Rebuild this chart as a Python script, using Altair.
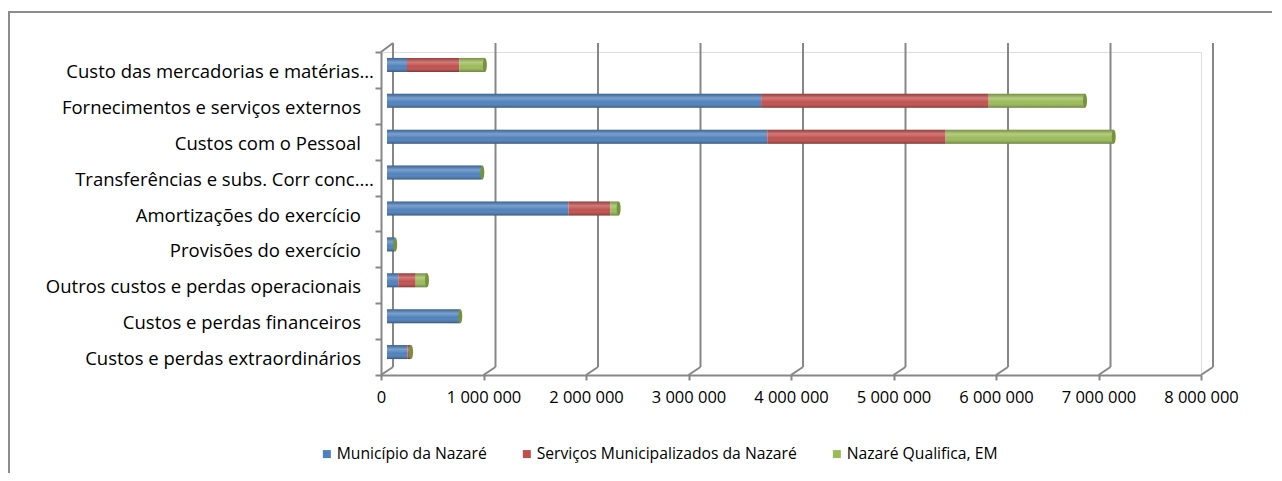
import altair as alt
import pandas as pd

categories = [
    "Custo das mercadorias e matérias…",
    "Fornecimentos e serviços externos",
    "Custos com o Pessoal",
    "Transferências e subs. Corr conc.…",
    "Amortizações do exercício",
    "Provisões do exercício",
    "Outros custos e perdas operacionais",
    "Custos e perdas financeiros",
    "Custos e perdas extraordinários",
]
series = ["Município da Nazaré", "Serviços Municipalizados da Nazaré", "Nazaré Qualifica, EM"]
municipio = [195000, 3650000, 3710000, 920000, 1770000, 75000, 110000, 710000, 200000]
servicos = [510000, 2220000, 1740000, 0, 410000, 0, 170000, 0, 30000]
qualifica = [250000, 940000, 1640000, 10000, 80000, 5000, 110000, 5000, 5000]
tick_values = [0, 1000000, 2000000, 3000000, 4000000, 5000000, 6000000, 7000000, 8000000]
colors = ["#4F81BD", "#C0504D", "#9BBB59"]

rows = []
for s_idx, (name, vals) in enumerate(zip(series, [municipio, servicos, qualifica])):
    for c, v in zip(categories, vals):
        rows.append({"categoria": c, "serie": name, "ordem": s_idx, "valor": v})
df = pd.DataFrame(rows)
cats = pd.DataFrame({"categoria": categories})
grid = pd.DataFrame({"v": tick_values})
zero = pd.DataFrame({"v": [0]})

W, H = 820, 323
FONT = "Open Sans"
xscale = alt.Scale(domain=[0, 8000000], nice=False, zero=True)
yscale = alt.Scale(domain=categories, paddingInner=0, paddingOuter=0)
GRID = "#878787"

border = alt.Chart(zero).mark_rect(fillOpacity=0, stroke="#8c8c8c", strokeWidth=2).encode(
    x=alt.value(-372), x2=alt.value(920), y=alt.value(-40), y2=alt.value(460)
)

back_grid = alt.Chart(grid).mark_rule(color=GRID, strokeWidth=2, xOffset=12).encode(
    x=alt.X("v:Q", scale=xscale), y=alt.value(-9), y2=alt.value(315)
)
diag = alt.Chart(grid).mark_rule(color=GRID, strokeWidth=2, x2Offset=12).encode(
    x=alt.X("v:Q", scale=xscale), x2="v:Q", y=alt.value(323), y2=alt.value(315)
)
top_diag = alt.Chart(zero).mark_rule(color=GRID, strokeWidth=2, x2Offset=12).encode(
    x=alt.X("v:Q", scale=xscale), x2="v:Q", y=alt.value(0), y2=alt.value(-9)
)

yenc = alt.Y(
    "categoria:N",
    sort=categories,
    title=None,
    scale=yscale,
    axis=alt.Axis(
        tickBand="extent", tickSize=6, tickColor=GRID, tickWidth=2,
        domainColor=GRID, domainWidth=2, labels=False,
    ),
)
xenc = alt.X(
    "valor:Q", stack="zero", scale=xscale, title=None,
    axis=alt.Axis(
        values=tick_values, grid=False, tickSize=5, tickColor=GRID, tickWidth=2,
        domainColor=GRID, domainWidth=2, labelPadding=9, labelFontSize=16.5,
        labelFont=FONT, labelColor="#000000", labelOverlap=False, labelFlush=False,
        labelExpr="replace(replace(format(datum.value, ','), ',', ' '), ',', ' ')",
    ),
)

TRUNC = "indexof(datum.categoria, '…') >= 0"
text_base = alt.Chart(cats).encode(
    y=alt.Y("categoria:N", sort=categories, scale=yscale),
    text="categoria:N",
)
labels_trunc = text_base.mark_text(
    align="right", baseline="middle", font=FONT, fontSize=18.5, color="#000000", dy=2
).encode(x=alt.value(-7)).transform_filter(TRUNC)
labels_full = text_base.mark_text(
    align="right", baseline="middle", font=FONT, fontSize=18.5, color="#000000", dy=2
).encode(x=alt.value(-20)).transform_filter("!(" + TRUNC + ")")

bars = alt.Chart(df).mark_bar(size=14, yOffset=-5, xOffset=6, x2Offset=6).encode(
    x=xenc,
    y=yenc,
    color=alt.Color(
        "serie:N",
        scale=alt.Scale(domain=series, range=colors),
        sort=series,
        legend=alt.Legend(
            title=None, orient="none", direction="horizontal", legendX=-62, legendY=394,
            symbolType="square", symbolSize=64, symbolStrokeWidth=0, labelFontSize=15.7,
            labelFont=FONT, labelColor="#000000", columnPadding=32, labelOffset=2,
            labelLimit=500,
        ),
    ),
    order=alt.Order("ordem:Q"),
)

shade = alt.Gradient(
    gradient="linear", x1=0, x2=0, y1=0, y2=1,
    stops=[
        alt.GradientStop(color="rgba(0,0,0,0.22)", offset=0),
        alt.GradientStop(color="rgba(255,255,255,0.25)", offset=0.3),
        alt.GradientStop(color="rgba(255,255,255,0.0)", offset=0.6),
        alt.GradientStop(color="rgba(0,0,0,0.32)", offset=1),
    ],
)
overlay = alt.Chart(df).mark_bar(size=14, yOffset=-5, xOffset=6, x2Offset=6, fill=shade).encode(
    x=alt.X("valor:Q", stack="zero", scale=xscale),
    y=alt.Y("categoria:N", sort=categories, scale=yscale),
    detail="serie:N",
    order=alt.Order("ordem:Q"),
)

caps = alt.Chart(df).transform_aggregate(
    total="sum(valor)", groupby=["categoria"]
).mark_point(
    shape="M0,-1 A0.28,1 0 1,1 0,1 A0.28,1 0 1,1 0,-1 Z",
    size=196, filled=True, fill="#76933C", opacity=1, strokeWidth=0,
    xOffset=6, yOffset=-5,
).encode(
    x=alt.X("total:Q", scale=xscale),
    y=alt.Y("categoria:N", sort=categories, scale=yscale),
)

chart = alt.layer(
    border, back_grid, diag, top_diag, bars, overlay, caps, labels_trunc, labels_full
).properties(
    width=W, height=H,
    autosize=alt.AutoSizeParams(type="none"),
    padding={"left": 373, "top": 44, "right": 71, "bottom": 98},
).configure_view(strokeWidth=0).configure(background="white")

chart.save("out.html", embed_options={"renderer": "svg", "actions": False})
